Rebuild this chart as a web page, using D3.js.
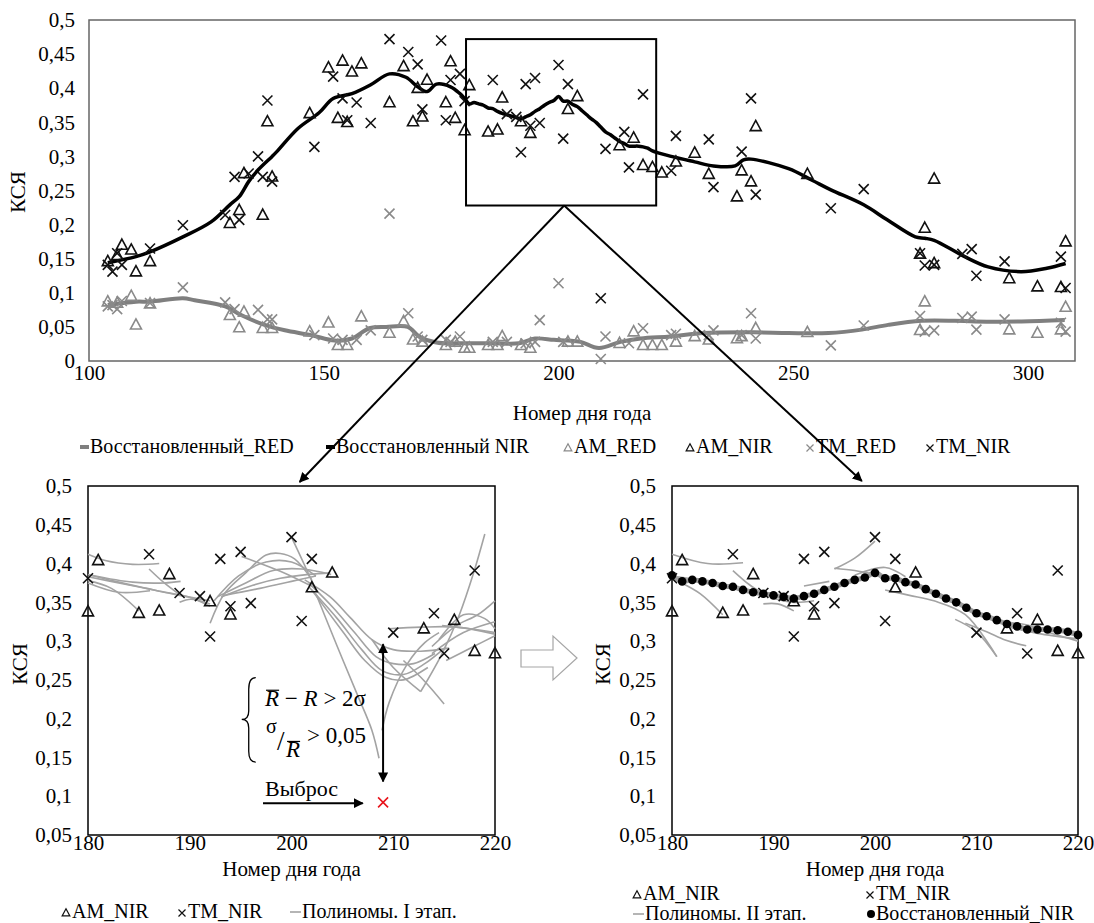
<!DOCTYPE html>
<html>
<head>
<meta charset="utf-8">
<script src="https://cdn.jsdelivr.net/npm/d3@7"></script>
<style>
  body { margin: 0; background: #fff; }
</style>
</head>
<body>
<svg id="chart" width="1094" height="923"></svg>
<script>
// ---- data ----
const topXTicks = [100, 150, 200, 250, 300];
const topYTicks = [0, 0.05, 0.1, 0.15, 0.2, 0.25, 0.3, 0.35, 0.4, 0.45, 0.5];
const zoomXTicks = [180, 190, 200, 210, 220];
const zoomYTicks = [0.05, 0.1, 0.15, 0.2, 0.25, 0.3, 0.35, 0.4, 0.45, 0.5];

// AM (triangles) and TM (crosses), NIR and RED: [day, value]
const amNir = [[104,.146],[106,.155],[107,.170],[109,.163],[110,.131],[113,.146],[130,.202],[132,.221],[133,.275],[137,.214],[138,.351],[139,.270],[147,.363],[151,.430],[153,.356],[154,.440],[155,.350],[156,.424],[158,.436],[164,.379],[167,.432],[169,.351],[170,.400],[171,.358],[172,.412],[176,.379],[177,.439],[178,.356],[180,.338],[181,.404],[185,.336],[187,.339],[188,.386],[192,.351],[194,.334],[202,.369],[204,.388],[213,.316],[216,.327],[218,.287],[220,.284],[222,.276],[225,.292],[229,.305],[232,.274],[238,.241],[239,.279],[241,.263],[242,.344],[253,.274],[277,.157],[278,.195],[280,.143],[280,.267],[296,.121],[302,.109],[307,.108],[308,.175]];
const tmNir = [[104,.141],[105,.131],[106,.158],[107,.141],[113,.165],[120,.199],[129,.214],[131,.270],[132,.207],[134,.275],[136,.300],[137,.270],[138,.382],[139,.263],[148,.314],[152,.417],[154,.385],[155,.353],[157,.379],[160,.349],[164,.472],[168,.453],[170,.435],[171,.369],[175,.470],[176,.353],[177,.412],[179,.421],[180,.381],[186,.412],[189,.362],[191,.358],[192,.306],[193,.406],[194,.345],[195,.415],[196,.349],[200,.434],[201,.326],[202,.406],[209,.092],[210,.311],[214,.336],[215,.284],[218,.391],[224,.279],[225,.330],[232,.325],[233,.255],[239,.307],[241,.385],[242,.244],[258,.224],[265,.252],[277,.158],[278,.140],[280,.141],[286,.157],[288,.164],[289,.125],[295,.146],[307,.153],[308,.107]];
const amRed = [[104,.087],[106,.085],[109,.095],[110,.053],[113,.084],[130,.067],[132,.049],[133,.072],[137,.048],[139,.048],[147,.043],[151,.056],[153,.023],[155,.023],[158,.065],[164,.041],[167,.058],[169,.031],[171,.028],[176,.023],[178,.028],[180,.019],[181,.019],[185,.023],[187,.023],[188,.036],[192,.023],[194,.019],[202,.028],[204,.028],[213,.026],[216,.043],[218,.023],[220,.023],[222,.023],[225,.028],[229,.036],[232,.031],[238,.033],[239,.036],[242,.048],[253,.042],[277,.045],[278,.087],[296,.046],[302,.041],[307,.046],[308,.079]];
const tmRed = [[104,.080],[105,.082],[106,.076],[107,.088],[113,.085],[120,.108],[129,.086],[131,.076],[136,.075],[138,.061],[139,.061],[148,.038],[152,.033],[154,.031],[157,.031],[160,.045],[164,.216],[168,.070],[170,.036],[171,.031],[176,.031],[177,.028],[179,.036],[186,.028],[189,.028],[193,.026],[195,.028],[196,.060],[200,.114],[201,.028],[209,.003],[210,.036],[215,.026],[218,.048],[224,.038],[225,.040],[232,.038],[233,.045],[239,.038],[241,.070],[242,.033],[258,.023],[265,.052],[277,.066],[278,.043],[280,.045],[286,.063],[288,.065],[289,.046],[295,.061],[307,.056],[308,.043]];

// outlier found at stage I
const outlier = [209, .092];

// restored NIR, one value per day 180..220 (dots of the right panel)
const restoredDays = d3.range(180, 221);
const restoredNir = [.385,.377,.379,.377,.375,.371,.370,.366,.363,.361,.359,.357,.355,.358,.361,.366,.370,.375,.379,.382,.388,.381,.381,.376,.373,.367,.361,.355,.350,.343,.336,.332,.327,.322,.319,.315,.315,.315,.314,.312,.308];

// restored NIR outside the zoomed window
const nirPreDays = [104,110,113,120,126,130,132,134,136,139,140,144.5,149,152,156,160,164,167.5,170,172,174,177,179];
const nirPreVals = [.144,.153,.160,.182,.204,.229,.241,.263,.280,.300,.307,.341,.364,.385,.392,.405,.421,.416,.402,.395,.406,.402,.392];
const nirPostDays = [224,229,233,237.6,239.4,241,249,254,258,265,270,276,278,280,286.5,291.5,298.5,304,308];
const nirPostVals = [.300,.292,.286,.286,.295,.296,.282,.265,.251,.229,.207,.182,.180,.177,.153,.138,.131,.136,.143];

// restored RED
const redDays = [104,110,113,120,122.5,129,132.5,137.4,141.7,147.3,152.3,156,159.7,163.3,167.9,170.3,174,180,186,191.6,195,199,202,204.7,208.6,213.2,217.5,223.8,231,241.5,249,257.5,264.6,270.2,277.3,284.4,288.7,298.6,307.8];
const redVals = [.082,.087,.087,.092,.089,.080,.067,.053,.045,.038,.030,.033,.048,.050,.050,.036,.027,.026,.026,.026,.033,.031,.030,.028,.019,.028,.033,.036,.041,.042,.041,.041,.046,.053,.059,.059,.058,.058,.060];

// stage I polynomials (left panel)
const poly1 = [
  [[180,.412],[181.7,.404],[184.4,.399],[187,.400]],
  [[180,.386],[182.7,.377],[185.8,.368],[189,.359],[192,.352]],
  [[180,.383],[183.4,.374],[186.8,.365],[189.9,.357],[192,.345]],
  [[180,.378],[182.3,.368],[185,.339]],
  [[180,.375],[183,.363],[186.1,.365]],
  [[180.3,.385],[184.4,.376],[187.5,.375],[189.1,.377]],
  [[186,.393],[187.5,.375],[189,.360]],
  [[189,.350],[190.1,.354],[192,.348]],
  [[192,.323],[193.4,.361],[195.5,.388],[197.5,.411],[198.9,.413],[200.3,.406],[202,.379]],
  [[192.4,.352],[194.8,.384],[197.5,.402],[200,.402],[202.4,.384]],
  [[192.7,.357],[195.5,.375],[198.2,.391],[201,.393],[203.9,.386]],
  [[193.1,.357],[196.2,.372],[198.9,.381],[201.7,.386],[203.8,.388]],
  [[193.4,.359],[196.9,.368],[200,.377],[202.4,.384]],
  [[195.1,.409],[198.9,.390],[202.4,.368]],
  [[200,.434],[201,.406],[202.4,.366]],
  [[201.3,.379],[203.8,.357],[205.8,.330],[207.9,.302],[210,.289],[212.7,.287],[215.5,.291]],
  [[201.7,.375],[204.1,.343],[206.2,.311],[208.3,.280],[210,.271],[212,.271],[214.1,.284]],
  [[201.7,.370],[204.5,.329],[206.9,.289],[208.9,.262],[211,.257],[213.1,.271],[215.2,.293]],
  [[202,.366],[205.1,.311],[207.2,.275],[209.3,.253],[211,.250],[213.4,.266]],
  [[202.4,.361],[204.5,.293],[206.5,.230],[207.9,.185],[208.6,.149]],
  [[208.9,.185],[209.6,.221],[211.4,.271],[213.1,.298],[214.5,.311]],
  [[207.9,.302],[210,.266],[212.7,.235]],
  [[211,.275],[213.1,.248],[215,.219]],
  [[209.6,.316],[212.7,.318],[216.2,.318],[220,.309]],
  [[212.7,.235],[214.8,.284],[216.5,.334],[217.9,.388],[219,.438]],
  [[213.8,.293],[216.2,.320],[218.3,.334],[220,.352]],
  [[214.5,.302],[216.9,.334],[219,.329],[220,.316]],
  [[213.8,.284],[216.9,.311],[220,.325]],
  [[215.2,.275],[217.9,.293],[220,.307]],
  [[214.8,.320],[217.6,.316],[220,.311]]
];

// stage II polynomials (right panel)
const poly2 = [
  [[180,.412],[183.5,.400],[187,.401]],
  [[180.8,.376],[182.8,.361],[185,.334]],
  [[180,.384],[184,.376],[188,.365]],
  [[186,.391],[187.6,.373],[189,.361]],
  [[189,.348],[190.4,.348],[192,.339]],
  [[190,.355],[192,.350],[194,.352]],
  [[193,.371],[195.5,.377]],
  [[196,.393],[198,.407],[200,.429]],
  [[196,.394],[198,.391],[200,.386]],
  [[198,.385],[201,.395],[203,.383]],
  [[201,.366],[203.4,.359],[205.8,.352],[208.9,.334],[212,.280]],
  [[207.9,.328],[210,.312],[212,.280]],
  [[208.9,.323],[211,.312],[212.9,.301],[214.9,.294]],
  [[210.9,.334],[212.9,.325],[214.9,.321],[216.9,.312],[220,.300]],
  [[213,.319],[216,.310],[220,.303]]
];

// ---- drawing ----
const SERIF = '"Liberation Serif", "Times New Roman", serif';
const BLACK = "#111", GREY_MARK = "#8a8a8a", GREY_LINE = "#7f7f7f", POLY = "#a3a3a3";
const TICK_FS = 21, TITLE_FS = 21, LEG_FS = 20;
const fmt = d3.formatLocale({decimal: ",", thousands: " ", grouping: [3], currency: ["", ""]}).format("");
const svg = d3.select("#chart");

const defs = svg.append("defs");
defs.append("marker").attr("id", "ah")
  .attr("viewBox", "0 0 10 10").attr("refX", 9).attr("refY", 5)
  .attr("markerWidth", 5).attr("markerHeight", 5).attr("orient", "auto-start-reverse")
  .append("path").attr("d", "M0,0L10,5L0,10z").attr("fill", "#000");

const triPath = s => `M0,${-s * 0.6}L${s * 0.55},${s * 0.42}L${-s * 0.55},${s * 0.42}Z`;
const crossPath = s => `M${-s / 2},${-s / 2}L${s / 2},${s / 2}M${-s / 2},${s / 2}L${s / 2},${-s / 2}`;

function marks(g, pts, x, y, kind, color, size) {
  g.append("g").selectAll("path").data(pts).enter().append("path")
    .attr("transform", d => `translate(${x(d[0])},${y(d[1])})`)
    .attr("d", kind === "tri" ? triPath(size) : crossPath(size))
    .attr("fill", "none").attr("stroke", color).attr("stroke-width", 1.6);
}

function axes(g, x, y, xt, yt, o) {
  const ya = g.append("g").attr("transform", `translate(${x.range()[0]},0)`)
    .call(d3.axisLeft(y).tickValues(yt).tickSize(0).tickPadding(o.yPad).tickFormat(fmt));
  const xa = g.append("g").attr("transform", `translate(0,${y.range()[0]})`)
    .call(d3.axisBottom(x).tickValues(xt).tickSize(0).tickPadding(o.xPad).tickFormat(d3.format("d")));
  [ya, xa].forEach(a => {
    a.select(".domain").remove();
    a.attr("font-family", null).attr("font-size", null);
    a.selectAll("text").style("font-size", TICK_FS + "px").attr("fill", "#000");
  });
  g.append("rect")
    .attr("x", x.range()[0]).attr("y", y.range()[1])
    .attr("width", x.range()[1] - x.range()[0]).attr("height", y.range()[0] - y.range()[1])
    .attr("fill", "none").attr("stroke", o.frame).attr("stroke-width", 1.5);
  g.append("text").attr("transform", `translate(${o.ytx},${o.yty}) rotate(-90)`)
    .attr("text-anchor", "middle").style("font-size", TITLE_FS + "px").text("КСЯ");
  g.append("text").attr("x", (x.range()[0] + x.range()[1]) / 2).attr("y", o.xty)
    .attr("text-anchor", "middle").style("font-size", TITLE_FS + "px").text("Номер дня года");
}

const line = (x, y) => d3.line().x(d => x(d[0])).y(d => y(d[1])).curve(d3.curveCatmullRom);

// ===== top panel =====
const xT = d3.scaleLinear().domain([100, 310]).range([89, 1075]);
const yT = d3.scaleLinear().domain([0, 0.5]).range([361, 20]);
const gT = svg.append("g");
axes(gT, xT, yT, topXTicks, topYTicks, {yPad: 14, xPad: 4, frame: "#666", ytx: 25, yty: 192, xty: 420});

const redPts = redDays.map((d, i) => [d, redVals[i]]);
const nirPts = nirPreDays.map((d, i) => [d, nirPreVals[i]])
  .concat(restoredDays.map((d, i) => [d, restoredNir[i]]))
  .concat(nirPostDays.map((d, i) => [d, nirPostVals[i]]));

gT.append("path").attr("d", line(xT, yT)(redPts)).attr("fill", "none").attr("stroke", GREY_LINE).attr("stroke-width", 4);
gT.append("path").attr("d", line(xT, yT)(nirPts)).attr("fill", "none").attr("stroke", "#000").attr("stroke-width", 3.5);
marks(gT, amRed, xT, yT, "tri", GREY_MARK, 10);
marks(gT, amNir, xT, yT, "tri", BLACK, 10);
marks(gT, tmRed, xT, yT, "cross", GREY_MARK, 10);
marks(gT, tmNir, xT, yT, "cross", BLACK, 10);

// zoom window
gT.append("rect")
  .attr("x", xT(180.3)).attr("y", yT(0.472))
  .attr("width", xT(220.8) - xT(180.3)).attr("height", yT(0.228) - yT(0.472))
  .attr("fill", "none").attr("stroke", "#000").attr("stroke-width", 2);

// legend helper
function legendItem(g, it) {
  if (it.kind === "line" || it.kind === "poly") {
    g.append("line").attr("x1", it.x).attr("x2", it.x + (it.kind === "poly" ? 11 : 9))
      .attr("y1", it.y - 6).attr("y2", it.y - 6)
      .attr("stroke", it.color).attr("stroke-width", it.kind === "poly" ? 1.6 : 4);
  } else if (it.kind === "dot") {
    g.append("circle").attr("cx", it.x + 5).attr("cy", it.y - 6).attr("r", 4).attr("fill", "#000");
  } else {
    g.append("path").attr("transform", `translate(${it.x + 4},${it.y - 5})`)
      .attr("d", it.kind === "tri" ? triPath(7) : crossPath(7))
      .attr("fill", "none").attr("stroke", it.color).attr("stroke-width", 1.2);
  }
  g.append("text").attr("x", it.x + (it.kind === "poly" ? 12 : 10)).attr("y", it.y)
    .style("font-size", LEG_FS + "px").text(it.label);
}

// top legend
const legT = svg.append("g");
[
  {x: 80, y: 453, kind: "line", color: GREY_LINE, label: "Восстановленный_RED"},
  {x: 326, y: 453, kind: "line", color: "#000", label: "Восстановленный NIR"},
  {x: 564, y: 453, kind: "tri", color: GREY_MARK, label: "AM_RED"},
  {x: 686, y: 453, kind: "tri", color: BLACK, label: "AM_NIR"},
  {x: 806, y: 453, kind: "cross", color: GREY_MARK, label: "TM_RED"},
  {x: 926, y: 453, kind: "cross", color: BLACK, label: "TM_NIR"}
].forEach(it => legendItem(legT, it));

// ===== bottom left panel =====
const xL = d3.scaleLinear().domain([180, 220]).range([88, 495]);
const yL = d3.scaleLinear().domain([0.05, 0.5]).range([835, 486]);
const gL = svg.append("g");
axes(gL, xL, yL, zoomXTicks, zoomYTicks, {yPad: 16, xPad: 0, frame: "#000", ytx: 27, yty: 664, xty: 876});

poly1.forEach(c => gL.append("path").attr("d", line(xL, yL)(c))
  .attr("fill", "none").attr("stroke", POLY).attr("stroke-width", 1.6));
const inWin = d => d[0] >= 180 && d[0] <= 220;
const notOutlier = d => !(d[0] === outlier[0] && d[1] === outlier[1]);
marks(gL, amNir.filter(inWin), xL, yL, "tri", BLACK, 10);
marks(gL, tmNir.filter(d => inWin(d) && notOutlier(d)), xL, yL, "cross", BLACK, 10);
marks(gL, [outlier], xL, yL, "cross", "#e8141b", 10);

// outlier annotation
gL.append("line").attr("x1", xL(209)).attr("x2", xL(209)).attr("y1", yL(0.296)).attr("y2", yL(0.119))
  .attr("stroke", "#000").attr("stroke-width", 2)
  .attr("marker-start", "url(#ah)").attr("marker-end", "url(#ah)");
gL.append("line").attr("x1", xL(197.2)).attr("x2", xL(207.0)).attr("y1", yL(0.091)).attr("y2", yL(0.091))
  .attr("stroke", "#000").attr("stroke-width", 2).attr("marker-end", "url(#ah)");
gL.append("text").attr("x", xL(197.4)).attr("y", yL(0.100)).style("font-size", "22px").text("Выброс");

// criterion formula
const fx = xL(197.4);
const bx = xL(195.6);
gL.append("path")
  .attr("d", `M${bx + 9},${yL(0.253)} Q${bx + 2},${yL(0.253)} ${bx + 2},${yL(0.238)} L${bx + 2},${yL(0.210)} Q${bx + 2},${yL(0.199)} ${bx - 5},${yL(0.199)} Q${bx + 2},${yL(0.199)} ${bx + 2},${yL(0.188)} L${bx + 2},${yL(0.158)} Q${bx + 2},${yL(0.144)} ${bx + 9},${yL(0.144)}`)
  .attr("fill", "none").attr("stroke", "#000").attr("stroke-width", 1.3);
const f1 = gL.append("text").attr("x", fx).attr("y", yL(0.216)).style("font-size", "23px").style("font-family", SERIF);
f1.append("tspan").style("font-style", "italic").text("R");
f1.append("tspan").text(" − ");
f1.append("tspan").style("font-style", "italic").text("R");
f1.append("tspan").text(" > 2σ");
const r1 = f1.node().getExtentOfChar(0);
gL.append("line").attr("x1", r1.x + 1).attr("x2", r1.x + r1.width).attr("y1", r1.y + 4).attr("y2", r1.y + 4)
  .attr("stroke", "#000").attr("stroke-width", 1.2);
gL.append("text").attr("x", fx + 1).attr("y", yL(0.181)).style("font-size", "20px").text("σ");
gL.append("text").attr("x", fx + 12).attr("y", yL(0.160)).style("font-size", "27px").text("/");
const r2 = gL.append("text").attr("x", fx + 21).attr("y", yL(0.150)).style("font-size", "23px")
  .style("font-style", "italic").style("font-family", SERIF).text("R");
const r2e = r2.node().getExtentOfChar(0);
gL.append("line").attr("x1", r2e.x + 1).attr("x2", r2e.x + r2e.width).attr("y1", r2e.y + 4).attr("y2", r2e.y + 4)
  .attr("stroke", "#000").attr("stroke-width", 1.2);
gL.append("text").attr("x", fx + 42).attr("y", yL(0.168)).style("font-size", "23px").text("> 0,05");

// left legend
const legL = svg.append("g");
[
  {x: 62, y: 918, kind: "tri", color: BLACK, label: "AM_NIR"},
  {x: 178, y: 918, kind: "cross", color: BLACK, label: "TM_NIR"},
  {x: 290, y: 918, kind: "poly", color: POLY, label: "Полиномы. I этап."}
].forEach(it => legendItem(legL, it));

// ===== bottom right panel =====
const xR = d3.scaleLinear().domain([180, 220]).range([672, 1078]);
const yR = d3.scaleLinear().domain([0.05, 0.5]).range([835, 486]);
const gR = svg.append("g");
axes(gR, xR, yR, zoomXTicks, zoomYTicks, {yPad: 16, xPad: 0, frame: "#000", ytx: 610, yty: 664, xty: 876});

const restPts = restoredDays.map((d, i) => [d, restoredNir[i]]);
gR.append("path").attr("d", line(xR, yR)(restPts)).attr("fill", "none").attr("stroke", "#9c9c9c").attr("stroke-width", 5);
poly2.forEach(c => gR.append("path").attr("d", line(xR, yR)(c))
  .attr("fill", "none").attr("stroke", POLY).attr("stroke-width", 1.6));
marks(gR, amNir.filter(inWin), xR, yR, "tri", BLACK, 10);
marks(gR, tmNir.filter(d => inWin(d) && notOutlier(d)), xR, yR, "cross", BLACK, 10);
gR.append("g").selectAll("circle").data(restPts).enter().append("circle")
  .attr("cx", d => xR(d[0])).attr("cy", d => yR(d[1])).attr("r", 4.3).attr("fill", "#000");

// right legend
const legR = svg.append("g");
[
  {x: 633, y: 900, kind: "tri", color: BLACK, label: "AM_NIR"},
  {x: 866, y: 900, kind: "cross", color: BLACK, label: "TM_NIR"},
  {x: 633, y: 920, kind: "poly", color: POLY, label: "Полиномы. II этап."},
  {x: 866, y: 920, kind: "dot", color: "#000", label: " Восстановленный_NIR"}
].forEach(it => legendItem(legR, it));

// ===== connectors =====
const boxMid = [xT(201.2), yT(0.228)];
svg.append("line").attr("x1", boxMid[0]).attr("y1", boxMid[1]).attr("x2", xL(200.8)).attr("y2", yL(0.5) - 4)
  .attr("stroke", "#000").attr("stroke-width", 2).attr("marker-end", "url(#ah)");
svg.append("line").attr("x1", boxMid[0]).attr("y1", boxMid[1]).attr("x2", xR(198.7)).attr("y2", yR(0.5) - 5)
  .attr("stroke", "#000").attr("stroke-width", 2).attr("marker-end", "url(#ah)");

// hollow arrow between the lower panels
svg.append("polygon")
  .attr("points", "521,650 553,650 553,636 577,658 553,680 553,667 521,667")
  .attr("fill", "#fff").attr("stroke", "#a6a6a6").attr("stroke-width", 1.2);

// every text in a Times-like face
svg.selectAll("text").style("font-family", SERIF);
</script>
</body>
</html>
